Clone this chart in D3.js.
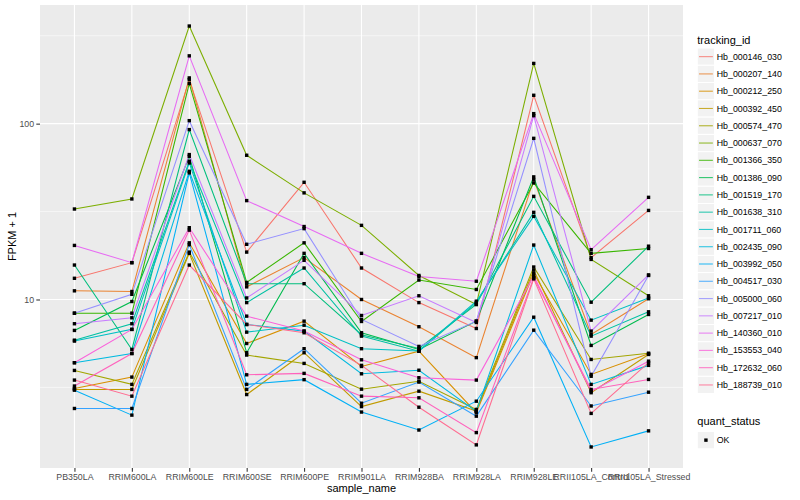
<!DOCTYPE html>
<html>
<head>
<meta charset="utf-8">
<script src="https://cdn.jsdelivr.net/npm/d3@7"></script>
<style>
body{margin:0;background:#fff;}
text{font-family:"Liberation Sans",Arial,Helvetica,sans-serif;}
</style>
</head>
<body>
<svg id="chart" width="800" height="500"></svg>
<script>
// data ------------------------------------------------
var samples=['PB350LA','RRIM600LA','RRIM600LE','RRIM600SE','RRIM600PE','RRIM901LA','RRIM928BA','RRIM928LA','RRIM928LE','RRII105LA_Control','RRII105LA_Stressed'];
var trackingIds=['Hb_000146_030','Hb_000207_140','Hb_000212_250','Hb_000392_450','Hb_000574_470','Hb_000637_070','Hb_001366_350','Hb_001386_090','Hb_001519_170','Hb_001638_310','Hb_001711_060','Hb_002435_090','Hb_003992_050','Hb_004517_030','Hb_005000_060','Hb_007217_010','Hb_140360_010','Hb_153553_040','Hb_172632_060','Hb_188739_010'];

// FPKM + 1, one value per sample
var Hb_000146_030=[13.2,16.2,178,18.6,46.4,15.1,9.6,6.84,145,17.3,32.1];
var Hb_000207_140=[11.2,11.1,182,11.8,17.3,10.0,7.0,4.67,48.1,6.33,10.1];
var Hb_000212_250=[3.12,3.62,21.0,5.62,7.53,4.16,5.08,2.27,14.1,3.75,4.91];
var Hb_000392_450=[3.08,3.08,18.3,2.88,4.98,2.46,3.01,2.32,14.7,2.95,4.87];
var Hb_000574_470=[3.95,3.29,18.6,4.83,4.33,3.09,3.43,2.37,15.3,4.56,4.95];
var Hb_000637_070=[32.7,37.3,359,66.1,40.4,26.4,13.7,9.37,220,16.9,10.5];
var Hb_001366_350=[8.36,8.36,169,12.5,21.0,7.50,12.9,11.4,46.0,18.3,19.5];
var Hb_001386_090=[6.67,9.74,65.2,4.98,18.3,6.47,5.20,7.53,49.8,5.48,8.22];
var Hb_001519_170=[15.7,5.20,92.5,12.3,12.3,6.30,5.27,9.37,38.6,9.65,20.1];
var Hb_001638_310=[5.87,7.28,61.1,9.6,15.1,6.19,5.08,9.6,31.3,6.19,8.51];
var Hb_001711_060=[5.80,6.76,59.8,6.52,7.14,5.25,5.1,9.78,29.7,7.63,10.2];
var Hb_002435_090=[4.37,4.93,53.6,7.21,6.61,3.78,3.96,2.31,20.4,3.29,4.22];
var Hb_003992_050=[3.05,2.20,52.5,3.29,3.50,2.29,1.81,2.64,7.93,1.45,1.79];
var Hb_004517_030=[2.40,2.40,20.5,3.08,5.25,2.57,3.39,2.17,6.69,2.48,2.97];
var Hb_005000_060=[8.36,10.7,104,20.6,25.3,7.70,5.41,7.53,82.5,3.66,13.7];
var Hb_007217_010=[7.28,7.87,66.7,10.2,16.7,8.11,10.5,7.40,111,6.61,13.8];
var Hb_140360_010=[20.3,16.2,243,36.5,26.0,18.3,13.5,12.7,114,19.2,38.1];
var Hb_153553_040=[4.37,6.76,25.6,8.04,6.61,4.54,3.59,3.48,13.6,3.01,4.46];
var Hb_172632_060=[3.22,4.93,24.8,3.73,3.80,2.82,2.76,1.75,13.3,3.08,3.51];
var Hb_188739_010=[3.48,2.82,15.7,7.21,6.47,4.22,2.44,1.49,13.1,2.25,4.37];

var yTicks=[10,100];
var yMinor=[Math.sqrt(10),Math.sqrt(1000),Math.sqrt(100000)];
var quantStatus=['OK'];

// ggplot hue palette for 20 levels
var palette=['#F8766D','#EA8331','#D89000','#C09B00','#A3A500','#7CAE00','#39B600','#00BB4E','#00BF7D','#00C1A3','#00BFC4','#00BAE0','#00B0F6','#35A2FF','#9590FF','#C77CFF','#E76BF3','#FA62DB','#FF62BC','#FF6C91'];

var seriesValues=[Hb_000146_030,Hb_000207_140,Hb_000212_250,Hb_000392_450,Hb_000574_470,Hb_000637_070,Hb_001366_350,Hb_001386_090,Hb_001519_170,Hb_001638_310,Hb_001711_060,Hb_002435_090,Hb_003992_050,Hb_004517_030,Hb_005000_060,Hb_007217_010,Hb_140360_010,Hb_153553_040,Hb_172632_060,Hb_188739_010];

var series=trackingIds.map(function(id,i){
  return {id:id,color:palette[i],values:seriesValues[i].map(function(v,j){return {sample:samples[j],value:v};})};
});

// layout ----------------------------------------------
var svg=d3.select('#chart');
var panel={x0:40,x1:683,y0:5,y1:468};

var all=d3.merge(seriesValues);
var lo=Math.log10(d3.min(all)),hi=Math.log10(d3.max(all));
var pad=(hi-lo)*0.05;
var y=d3.scaleLog().domain([Math.pow(10,lo-pad),Math.pow(10,hi+pad)]).range([panel.y1,panel.y0]);
var x=d3.scalePoint().domain(samples).range([panel.x0,panel.x1]).padding(0.6);

// panel background + grid
svg.append('rect')
  .attr('x',panel.x0).attr('y',panel.y0)
  .attr('width',panel.x1-panel.x0).attr('height',panel.y1-panel.y0)
  .attr('fill','#EBEBEB');

var grid=svg.append('g');
grid.selectAll('.minor').data(yMinor).enter().append('line')
  .attr('x1',panel.x0).attr('x2',panel.x1)
  .attr('y1',function(d){return y(d);}).attr('y2',function(d){return y(d);})
  .attr('stroke','#fff').attr('stroke-width',0.55);
grid.selectAll('.major').data(yTicks).enter().append('line')
  .attr('x1',panel.x0).attr('x2',panel.x1)
  .attr('y1',function(d){return y(d);}).attr('y2',function(d){return y(d);})
  .attr('stroke','#fff').attr('stroke-width',1.1);
grid.selectAll('.vmajor').data(samples).enter().append('line')
  .attr('x1',function(d){return x(d);}).attr('x2',function(d){return x(d);})
  .attr('y1',panel.y0).attr('y2',panel.y1)
  .attr('stroke','#fff').attr('stroke-width',1.1);

// lines
var line=d3.line()
  .x(function(d){return x(d.sample);})
  .y(function(d){return y(d.value);});

svg.append('g').selectAll('path').data(series).enter().append('path')
  .attr('d',function(d){return line(d.values);})
  .attr('fill','none')
  .attr('stroke',function(d){return d.color;})
  .attr('stroke-width',1.07);

// points
var pts=[];
series.forEach(function(s){s.values.forEach(function(v){pts.push(v);});});
svg.append('g').selectAll('rect').data(pts).enter().append('rect')
  .attr('x',function(d){return x(d.sample)-1.7;})
  .attr('y',function(d){return y(d.value)-1.7;})
  .attr('width',3.4).attr('height',3.4)
  .attr('fill','#000');

// axes
var yAxis=svg.append('g').attr('transform','translate('+panel.x0+',0)')
  .call(d3.axisLeft(y).tickValues(yTicks).tickFormat(d3.format('d')).tickSize(3.7).tickPadding(2.2));
var xAxis=svg.append('g').attr('transform','translate(0,'+panel.y1+')')
  .call(d3.axisBottom(x).tickSize(3.7).tickPadding(2.0));
[yAxis,xAxis].forEach(function(a){
  a.select('.domain').remove();
  a.selectAll('.tick line').attr('stroke','#333333').attr('stroke-width',1.07);
  a.selectAll('.tick text').attr('fill','#4D4D4D').style('font-size','8.8px');
});

// axis titles
svg.append('text')
  .attr('x',(panel.x0+panel.x1)/2).attr('y',491.5)
  .attr('text-anchor','middle').style('font-size','11px').attr('fill','#000')
  .text('sample_name');
svg.append('text')
  .attr('transform','translate(16,'+((panel.y0+panel.y1)/2)+') rotate(-90)')
  .attr('text-anchor','middle').style('font-size','11px').attr('fill','#000')
  .text('FPKM + 1');

// legend: tracking_id
var keySize=17.28;
var legX=697.3;
var leg=svg.append('g');
leg.append('text').attr('x',legX).attr('y',44.2).style('font-size','11px').attr('fill','#000').text('tracking_id');
var keys=leg.selectAll('.key').data(series).enter().append('g')
  .attr('transform',function(d,i){return 'translate('+legX+','+(48+i*keySize)+')';});
keys.append('rect').attr('width',keySize).attr('height',keySize)
  .attr('fill','#F2F2F2').attr('stroke','#fff').attr('stroke-width',1);
keys.append('line')
  .attr('x1',keySize*0.1).attr('x2',keySize*0.9)
  .attr('y1',keySize/2).attr('y2',keySize/2)
  .attr('stroke',function(d){return d.color;}).attr('stroke-width',1.1).attr('opacity',0.8);
keys.append('text')
  .attr('x',keySize+2.2).attr('y',keySize/2+3.1)
  .style('font-size','8.8px').attr('fill','#000')
  .text(function(d){return d.id;});

// legend: quant_status
var leg2=svg.append('g');
leg2.append('text').attr('x',legX).attr('y',425).style('font-size','11px').attr('fill','#000').text('quant_status');
var k2=leg2.selectAll('.key').data(quantStatus).enter().append('g')
  .attr('transform',function(d,i){return 'translate('+legX+','+(431.5+i*keySize)+')';});
k2.append('rect').attr('width',keySize).attr('height',keySize)
  .attr('fill','#F2F2F2').attr('stroke','#fff').attr('stroke-width',1);
k2.append('rect').attr('x',keySize/2-1.7).attr('y',keySize/2-1.7)
  .attr('width',3.4).attr('height',3.4).attr('fill','#000');
k2.append('text')
  .attr('x',keySize+2.2).attr('y',keySize/2+3.1)
  .style('font-size','8.8px').attr('fill','#000')
  .text(function(d){return d;});
</script>
</body>
</html>
